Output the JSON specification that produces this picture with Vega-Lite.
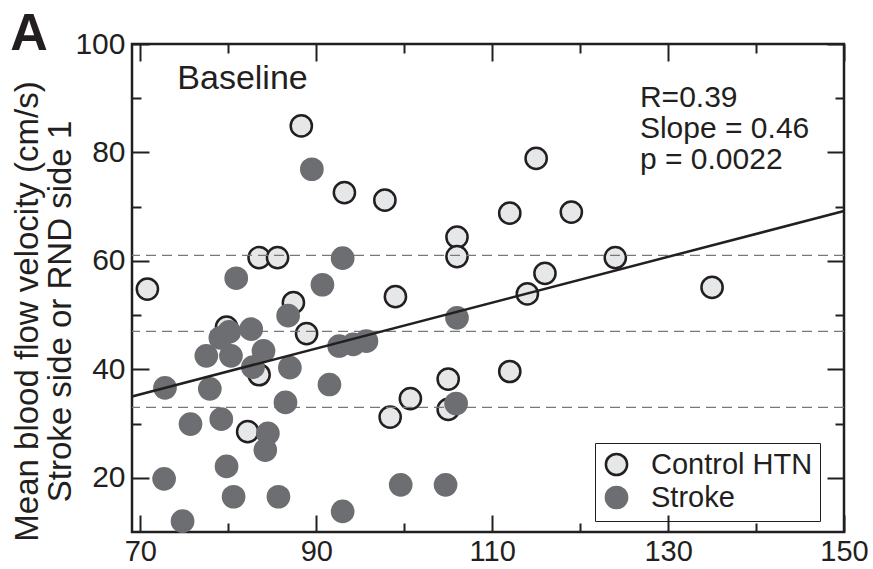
{
  "$schema": "https://vega.github.io/schema/vega-lite/v6.json",
  "autosize": {"type": "none"},
  "padding": {"left": 132, "top": 44, "right": 29, "bottom": 37},
  "width": 712,
  "height": 488,
  "background": "white",
  "config": {
    "view": {"stroke": "#231f20", "strokeWidth": 2.5},
    "font": "Liberation Sans"
  },
  "datasets": {
    "points": [
      {"x": 70.8, "y": 54.8, "group": "Control HTN"},
      {"x": 88.3, "y": 84.9, "group": "Control HTN"},
      {"x": 93.2, "y": 72.6, "group": "Control HTN"},
      {"x": 97.8, "y": 71.2, "group": "Control HTN"},
      {"x": 83.5, "y": 60.6, "group": "Control HTN"},
      {"x": 85.6, "y": 60.6, "group": "Control HTN"},
      {"x": 87.4, "y": 52.3, "group": "Control HTN"},
      {"x": 88.9, "y": 46.6, "group": "Control HTN"},
      {"x": 79.8, "y": 47.8, "group": "Control HTN"},
      {"x": 83.5, "y": 39.0, "group": "Control HTN"},
      {"x": 82.2, "y": 28.5, "group": "Control HTN"},
      {"x": 99.0, "y": 53.4, "group": "Control HTN"},
      {"x": 98.4, "y": 31.2, "group": "Control HTN"},
      {"x": 100.7, "y": 34.6, "group": "Control HTN"},
      {"x": 105.0, "y": 38.2, "group": "Control HTN"},
      {"x": 105.0, "y": 32.6, "group": "Control HTN"},
      {"x": 106.0, "y": 64.4, "group": "Control HTN"},
      {"x": 106.0, "y": 60.8, "group": "Control HTN"},
      {"x": 112.0, "y": 68.8, "group": "Control HTN"},
      {"x": 112.0, "y": 39.6, "group": "Control HTN"},
      {"x": 114.0, "y": 53.9, "group": "Control HTN"},
      {"x": 115.0, "y": 78.9, "group": "Control HTN"},
      {"x": 116.0, "y": 57.7, "group": "Control HTN"},
      {"x": 119.0, "y": 69.0, "group": "Control HTN"},
      {"x": 124.0, "y": 60.6, "group": "Control HTN"},
      {"x": 135.0, "y": 55.1, "group": "Control HTN"},
      {"x": 89.5, "y": 76.9, "group": "Stroke"},
      {"x": 93.0, "y": 60.5, "group": "Stroke"},
      {"x": 80.9, "y": 56.8, "group": "Stroke"},
      {"x": 90.7, "y": 55.6, "group": "Stroke"},
      {"x": 86.8, "y": 49.9, "group": "Stroke"},
      {"x": 79.1, "y": 45.8, "group": "Stroke"},
      {"x": 80.1, "y": 46.9, "group": "Stroke"},
      {"x": 82.6, "y": 47.4, "group": "Stroke"},
      {"x": 77.5, "y": 42.5, "group": "Stroke"},
      {"x": 80.3, "y": 42.5, "group": "Stroke"},
      {"x": 84.0, "y": 43.4, "group": "Stroke"},
      {"x": 82.8, "y": 40.4, "group": "Stroke"},
      {"x": 87.0, "y": 40.3, "group": "Stroke"},
      {"x": 92.6, "y": 44.3, "group": "Stroke"},
      {"x": 94.2, "y": 44.6, "group": "Stroke"},
      {"x": 95.7, "y": 45.2, "group": "Stroke"},
      {"x": 72.8, "y": 36.6, "group": "Stroke"},
      {"x": 77.9, "y": 36.4, "group": "Stroke"},
      {"x": 91.5, "y": 37.2, "group": "Stroke"},
      {"x": 86.5, "y": 33.9, "group": "Stroke"},
      {"x": 75.7, "y": 29.9, "group": "Stroke"},
      {"x": 79.2, "y": 30.8, "group": "Stroke"},
      {"x": 84.5, "y": 28.2, "group": "Stroke"},
      {"x": 84.2, "y": 25.1, "group": "Stroke"},
      {"x": 79.8, "y": 22.1, "group": "Stroke"},
      {"x": 72.7, "y": 19.8, "group": "Stroke"},
      {"x": 80.6, "y": 16.5, "group": "Stroke"},
      {"x": 85.7, "y": 16.5, "group": "Stroke"},
      {"x": 93.0, "y": 13.8, "group": "Stroke"},
      {"x": 74.8, "y": 12.0, "group": "Stroke"},
      {"x": 106.0, "y": 49.5, "group": "Stroke"},
      {"x": 105.9, "y": 33.7, "group": "Stroke"},
      {"x": 99.6, "y": 18.7, "group": "Stroke"},
      {"x": 104.7, "y": 18.7, "group": "Stroke"}
    ],
    "refs": [{"y": 61}, {"y": 47}, {"y": 33}],
    "fit": [{"x": 69.05, "y": 35.0}, {"x": 150, "y": 69.2}],
    "labels": [
      {"x": 74.2, "y": 91.7, "text": "Baseline", "size": 34},
      {"x": 126.8, "y": 88.3, "text": "R=0.39", "size": 30},
      {"x": 126.8, "y": 82.6, "text": "Slope = 0.46", "size": 30},
      {"x": 126.8, "y": 76.9, "text": "p = 0.0022", "size": 30}
    ],
    "panel": [{"x": 55.2, "y": 98.9, "text": "A"}]
  },
  "resolve": {"axis": {"x": "independent", "y": "independent"}},
  "layer": [
    {
      "data": {"name": "points"},
      "transform": [{"filter": "datum.group == 'Control HTN'"}],
      "mark": {"type": "circle", "size": 450, "strokeWidth": 2.5, "opacity": 1},
      "encoding": {
        "x": {"field": "x", "type": "quantitative",
          "scale": {"domain": [69.05, 150], "nice": false, "zero": false},
          "axis": {"orient": "bottom", "values": [70, 90, 110, 130, 150],
            "tickSize": -17,
            "tickColor": "#231f20", "tickWidth": 2, "domain": false, "grid": false, "title": null,
            "labelFontSize": 29, "labelColor": "#231f20", "labelFont": "Liberation Sans", "labelPadding": 22, "labelFlush": false}},
        "y": {"field": "y", "type": "quantitative",
          "scale": {"domain": [10, 100], "nice": false, "zero": false},
          "axis": {"orient": "left", "values": [20, 40, 60, 80, 100],
            "tickSize": -17,
            "tickColor": "#231f20", "tickWidth": 2, "domain": false, "grid": false,
            "labelFontSize": 30, "labelColor": "#231f20", "labelFont": "Liberation Sans", "labelPadding": 24, "labelFlush": false,
            "title": ["Mean blood flow velocity (cm/s)", "Stroke side or RND side 1"],
            "titleFontSize": 33, "titleFontWeight": "normal", "titleColor": "#231f20", "titleFont": "Liberation Sans",
            "titleAngle": -90, "titleAlign": "center", "titleBaseline": "alphabetic", "titleLineHeight": 33,
            "titleX": -95, "titleY": 267}},
        "fill": {"field": "group", "type": "nominal",
          "scale": {"domain": ["Control HTN", "Stroke"], "range": ["#e6e7e8", "#6d6e71"]},
          "legend": {"orient": "none", "legendX": 463, "legendY": 399, "title": null,
            "strokeColor": "#231f20", "padding": 7, "symbolSize": 450, "symbolStrokeWidth": 2.5,
            "labelFontSize": 29, "labelFont": "Liberation Sans", "labelColor": "#231f20", "labelOffset": 20,
            "rowPadding": 0, "symbolType": "circle", "labelLimit": 400}},
        "stroke": {"field": "group", "type": "nominal",
          "scale": {"domain": ["Control HTN", "Stroke"], "range": ["#231f20", "#6d6e71"]},
          "legend": {"orient": "none", "legendX": 463, "legendY": 399, "title": null,
            "strokeColor": "#231f20", "padding": 7, "symbolSize": 450, "symbolStrokeWidth": 2.5,
            "labelFontSize": 29, "labelFont": "Liberation Sans", "labelColor": "#231f20", "labelOffset": 20,
            "rowPadding": 0, "symbolType": "circle", "labelLimit": 400}}
      }
    },
    {
      "data": {"name": "refs"},
      "mark": {"type": "rule", "strokeDash": [10, 6], "strokeWidth": 1.3, "color": "#77787b"},
      "encoding": {
        "y": {"field": "y", "type": "quantitative", "axis": null}
      }
    },
    {
      "data": {"name": "points"},
      "transform": [{"filter": "datum.group == 'Stroke'"}],
      "mark": {"type": "circle", "size": 450, "strokeWidth": 2.5, "opacity": 1},
      "encoding": {
        "x": {"field": "x", "type": "quantitative",
          "axis": {"orient": "bottom", "values": [80, 100, 120, 140], "labels": false, "tickSize": -9,
            "tickColor": "#231f20", "tickWidth": 2, "domain": false, "grid": false, "title": null}},
        "y": {"field": "y", "type": "quantitative",
          "axis": {"orient": "left", "values": [30, 50, 70, 90], "labels": false, "tickSize": -9,
            "tickColor": "#231f20", "tickWidth": 2, "domain": false, "grid": false, "title": null}},
        "fill": {"field": "group", "type": "nominal"},
        "stroke": {"field": "group", "type": "nominal"}
      }
    },
    {
      "data": {"name": "fit"},
      "mark": {"type": "line", "color": "#231f20", "strokeWidth": 2.5},
      "encoding": {
        "x": {"field": "x", "type": "quantitative",
          "axis": {"orient": "top", "values": [70, 90, 110, 130, 150], "labels": false, "tickSize": -17,
            "tickColor": "#231f20", "tickWidth": 2, "domain": false, "grid": false, "title": null}},
        "y": {"field": "y", "type": "quantitative",
          "axis": {"orient": "right", "values": [20, 40, 60, 80, 100], "labels": false, "tickSize": -17,
            "tickColor": "#231f20", "tickWidth": 2, "domain": false, "grid": false, "title": null}}
      }
    },
    {
      "data": {"name": "labels"},
      "mark": {"type": "text", "align": "left", "baseline": "alphabetic", "font": "Liberation Sans", "color": "#231f20"},
      "encoding": {
        "x": {"field": "x", "type": "quantitative",
          "axis": {"orient": "top", "values": [80, 100, 120, 140], "labels": false, "tickSize": -9,
            "tickColor": "#231f20", "tickWidth": 2, "domain": false, "grid": false, "title": null}},
        "y": {"field": "y", "type": "quantitative",
          "axis": {"orient": "right", "values": [30, 50, 70, 90], "labels": false, "tickSize": -9,
            "tickColor": "#231f20", "tickWidth": 2, "domain": false, "grid": false, "title": null}},
        "text": {"field": "text"},
        "size": {"field": "size", "type": "quantitative", "scale": null, "legend": null}
      }
    },
    {
      "data": {"name": "panel"},
      "mark": {"type": "text", "align": "left", "baseline": "alphabetic", "font": "Liberation Sans", "fontWeight": "bold", "fontSize": 52, "color": "#231f20", "clip": false},
      "encoding": {
        "x": {"field": "x", "type": "quantitative", "axis": null},
        "y": {"field": "y", "type": "quantitative", "axis": null},
        "text": {"field": "text"}
      }
    }
  ]
}
